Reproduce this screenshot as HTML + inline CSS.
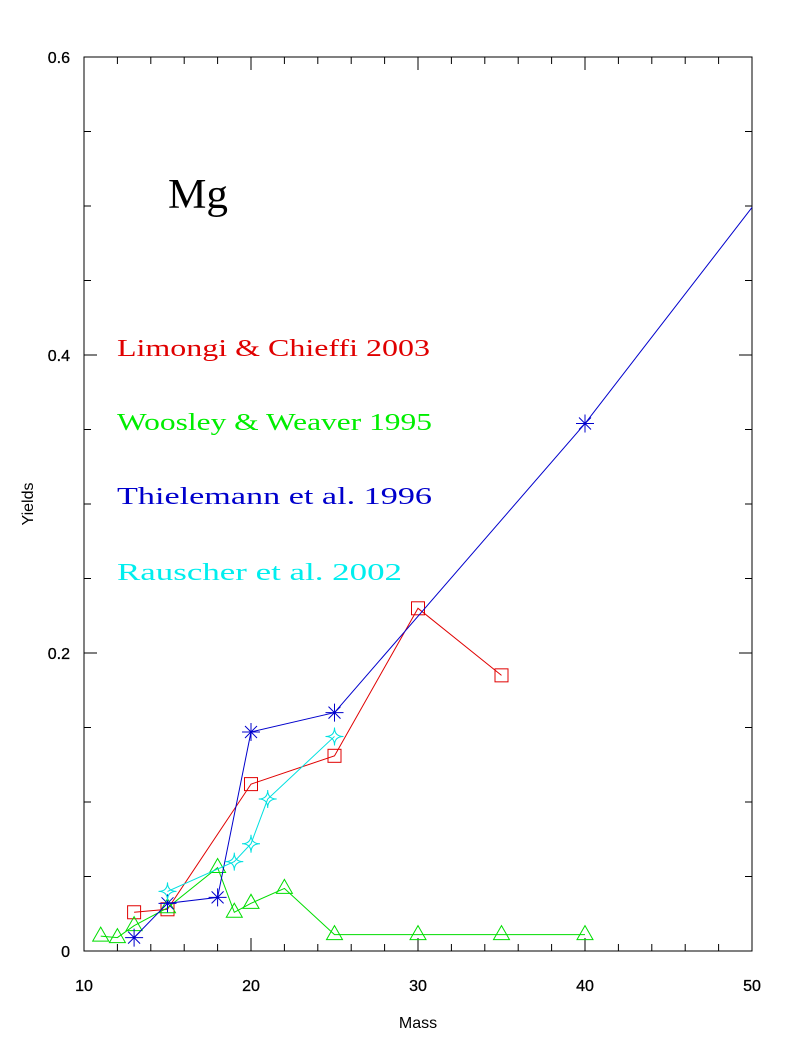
<!DOCTYPE html>
<html><head><meta charset="utf-8"><style>
body{margin:0;background:#fff}
svg{display:block;font-family:"Liberation Sans",sans-serif}
</style></head><body>
<svg id="chart" width="795" height="1059">
<rect x="84" y="57" width="668" height="894" fill="none" stroke="#000" stroke-width="1"/>
<g id="ticks"></g>
<g id="series"></g>
<text x="168" y="208" font-family="Liberation Serif,serif" font-size="42" textLength="60" lengthAdjust="spacingAndGlyphs">Mg</text>
<g font-family="Liberation Serif,serif" font-size="24">
<text x="117" y="356" fill="#e00000" textLength="313" lengthAdjust="spacingAndGlyphs">Limongi &amp; Chieffi 2003</text>
<text x="117" y="430" fill="#00ee00" textLength="315" lengthAdjust="spacingAndGlyphs">Woosley &amp; Weaver 1995</text>
<text x="117" y="504" fill="#0000cc" textLength="315" lengthAdjust="spacingAndGlyphs">Thielemann et al. 1996</text>
<text x="117" y="580" fill="#00eeee" textLength="285" lengthAdjust="spacingAndGlyphs">Rauscher et al. 2002</text>
</g>
<text x="418" y="1028" font-size="16" text-anchor="middle">Mass</text>
<text transform="translate(33,504) rotate(-90)" font-size="16" text-anchor="middle">Yields</text>
</svg>
<script>
const xTicks=[10,20,30,40,50];
const yTicks=[0,0.2,0.4,0.6];
const redX=[13,15,20,25,30,35], redY=[0.026,0.028,0.112,0.131,0.230,0.185];
const greenX=[11,12,13,15,18,19,20,22,25,30,35,40], greenY=[0.010,0.009,0.017,0.029,0.056,0.026,0.032,0.042,0.011,0.011,0.011,0.011];
const blueX=[13,15,18,20,25,40,50], blueY=[0.009,0.032,0.036,0.147,0.160,0.354,0.499];
const cyanX=[15,19,20,21,25], cyanY=[0.040,0.060,0.072,0.102,0.144];
const X0=84,X1=752,Y0=951,Y1=57;
const sx=v=>X0+(v-10)/40*(X1-X0);
const sy=v=>Y0-v/0.6*(Y0-Y1);
const NS="http://www.w3.org/2000/svg";
function mk(tag,attrs,parent){const e=document.createElementNS(NS,tag);for(const k in attrs)e.setAttribute(k,attrs[k]);parent.appendChild(e);return e;}
const tg=document.getElementById('ticks');
for(let v=10;v<=50;v+=2){const maj=(v%10===0);const L=maj?13:7;
 mk('line',{x1:sx(v),x2:sx(v),y1:Y0,y2:Y0-L,stroke:'#000'},tg);
 mk('line',{x1:sx(v),x2:sx(v),y1:Y1,y2:Y1+L,stroke:'#000'},tg);}
for(let i=0;i<=12;i++){const v=i*0.05;const maj=(i%4===0);const L=maj?13:7;
 mk('line',{x1:X0,x2:X0+L,y1:sy(v),y2:sy(v),stroke:'#000'},tg);
 mk('line',{x1:X1,x2:X1-L,y1:sy(v),y2:sy(v),stroke:'#000'},tg);}
xTicks.forEach(v=>{const t=mk('text',{x:sx(v),y:991,'font-size':16,'text-anchor':'middle','stroke':'#000','stroke-width':0.3},tg);t.textContent=v;

});
yTicks.forEach(v=>{const t=mk('text',{x:70,y:sy(v)+6,'font-size':16,'text-anchor':'end','stroke':'#000','stroke-width':0.3},tg);t.textContent=v;

});
const sg=document.getElementById('series');
function series(xs,ys,color,marker,name){
 const g=mk('g',{},sg);
 
 
 mk('polyline',{points:xs.map((x,i)=>sx(x)+','+sy(ys[i])).join(' '),fill:'none',stroke:color,'stroke-width':1},g);
 xs.forEach((x,i)=>{if(x>=50)return;const cx=sx(x),cy=sy(ys[i]);let m;
  if(marker==='sq')m=mk('rect',{x:cx-6.5,y:cy-6.5,width:13,height:13,fill:'none',stroke:color},g);
  else if(marker==='tri')m=mk('path',{d:`M${cx-8},${cy+5}L${cx+8},${cy+5}L${cx},${cy-9}Z`,fill:'none',stroke:color},g);
  else if(marker==='ast')m=mk('path',{d:`M${cx-9},${cy}H${cx+9}M${cx},${cy-9}V${cy+9}M${cx-6},${cy-6}L${cx+6},${cy+6}M${cx-6},${cy+6}L${cx+6},${cy-6}`,fill:'none',stroke:color},g);
  else m=mk('path',{d:`M${cx},${cy-9}Q${cx},${cy} ${cx+9},${cy}Q${cx},${cy} ${cx},${cy+9}Q${cx},${cy} ${cx-9},${cy}Q${cx},${cy} ${cx},${cy-9}Z`,fill:'none',stroke:color},g);
  
  });
}
series(redX,redY,'#e00000','sq','series-limongi');
series(greenX,greenY,'#00dd00','tri','series-woosley');
series(blueX,blueY,'#0000cc','ast','series-thielemann');
series(cyanX,cyanY,'#00e0e0','star','series-rauscher');
</script>
</body></html>
